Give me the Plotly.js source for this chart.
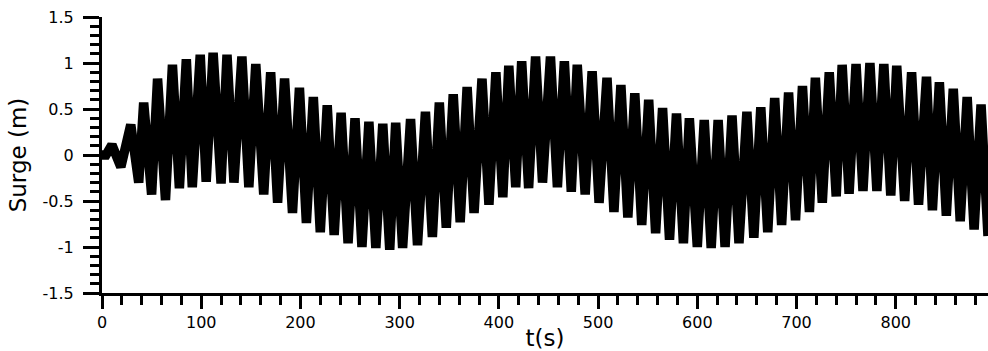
<!DOCTYPE html>
<html>
<head>
<meta charset="utf-8">
<script src="https://cdn.plot.ly/plotly-3.0.1.min.js"></script>
<style>
  html, body { margin: 0; padding: 0; background: #fff; }
  #chart { width: 988px; height: 351px; }
</style>
</head>
<body>
<div id="chart"></div>
<script>
// Time (s) of successive extremes (rest, then alternating peaks / troughs)
var t = [0, 4,
  10, 19, 29, 37, 42, 50, 56, 64, 71, 78, 85, 91, 99, 105, 112, 120, 126, 133,
  141, 148, 155, 163, 170, 177, 184, 192, 199, 206, 213, 220, 227, 234, 241, 248,
  255, 262, 269, 276, 283, 290, 296, 303, 311, 318, 326, 333, 340, 347, 354, 361,
  368, 375, 383, 390, 397, 404, 410, 417, 423, 430, 437, 444, 452, 459, 466, 473,
  479, 487, 494, 501, 509, 516, 523, 530, 537, 544, 551, 558, 565, 572, 579, 586,
  592, 600, 607, 614, 621, 628, 635, 642, 650, 657, 664, 671, 678, 685, 692, 699,
  706, 713, 719, 726, 733, 740, 746, 753, 760, 767, 774, 781, 788, 795, 801, 809,
  816, 823, 831, 837, 844, 851, 858, 865, 872, 879, 886, 893];
// Surge (m) at those instants
var surge = [0, 0,
  0.11, -0.13, 0.33, -0.30, 0.57, -0.43, 0.83, -0.49, 0.98, -0.36, 1.04, -0.35, 1.09, -0.29, 1.11, -0.31, 1.09, -0.30,
  1.07, -0.35, 0.99, -0.43, 0.90, -0.52, 0.83, -0.63, 0.73, -0.74, 0.63, -0.84, 0.54, -0.87, 0.46, -0.96,
  0.40, -1.00, 0.36, -1.01, 0.34, -1.03, 0.35, -1.01, 0.39, -0.98, 0.47, -0.89, 0.57, -0.79, 0.66, -0.73,
  0.74, -0.63, 0.83, -0.54, 0.90, -0.46, 0.97, -0.35, 1.02, -0.36, 1.07, -0.30, 1.07, -0.35, 1.02, -0.40,
  0.98, -0.43, 0.91, -0.52, 0.84, -0.62, 0.76, -0.68, 0.67, -0.76, 0.60, -0.85, 0.51, -0.92, 0.45, -0.96,
  0.40, -1.00, 0.38, -1.01, 0.38, -1.00, 0.43, -0.96, 0.47, -0.90, 0.52, -0.84, 0.62, -0.76, 0.68, -0.71,
  0.75, -0.62, 0.84, -0.52, 0.90, -0.45, 0.98, -0.42, 0.99, -0.39, 1.00, -0.39, 0.99, -0.44, 0.97, -0.50,
  0.90, -0.54, 0.85, -0.60, 0.79, -0.66, 0.72, -0.72, 0.63, -0.81, 0.55, -0.88];

var xTickVals = [0, 100, 200, 300, 400, 500, 600, 700, 800];
var xTickText = ["0", "100", "200", "300", "400", "500", "600", "700", "800"];
var yTickVals = [-1.5, -1, -0.5, 0, 0.5, 1, 1.5];
var yTickText = ["-1.5", "-1", "-0.5", "0", "0.5", "1", "1.5"];

var font = "DejaVu Sans, Arial, sans-serif";

var trace = {
  x: t, y: surge, type: "scatter", mode: "lines",
  line: { color: "#000", width: 9.5 },
  hoverinfo: "skip", showlegend: false
};

var layout = {
  width: 988, height: 351,
  margin: { l: 102, r: 0, t: 17, b: 58 },
  paper_bgcolor: "#fff", plot_bgcolor: "#fff",
  showlegend: false,
  font: { family: font, color: "#000", size: 16 },
  xaxis: {
    range: [0, 893],
    showgrid: false, zeroline: false,
    showline: true, linecolor: "#000", linewidth: 3,
    ticks: "outside", ticklen: 13, tickwidth: 3, tickcolor: "#000",
    tickvals: xTickVals, ticktext: xTickText,
    tickfont: { family: font, size: 16, color: "#000" },
    minor: { dtick: 20, tick0: 0, ticks: "outside", ticklen: 9, tickwidth: 3, tickcolor: "#000", showgrid: false },
    title: { text: "t(s)", font: { family: font, size: 23, color: "#000" }, standoff: 2 }
  },
  yaxis: {
    range: [-1.5, 1.5],
    showgrid: false, zeroline: false,
    showline: true, linecolor: "#000", linewidth: 3,
    ticks: "outside", ticklen: 16, tickwidth: 3, tickcolor: "#000",
    ticklabelstandoff: 6,
    tickvals: yTickVals, ticktext: yTickText,
    tickfont: { family: font, size: 16, color: "#000" },
    minor: { dtick: 0.1, tick0: 0, ticks: "outside", ticklen: 9, tickwidth: 3, tickcolor: "#000", showgrid: false },
    title: { text: "Surge (m)", font: { family: font, size: 23, color: "#000" }, standoff: 10 }
  }
};

Plotly.newPlot("chart", [trace], layout, { displayModeBar: false, staticPlot: true });
</script>
</body>
</html>
